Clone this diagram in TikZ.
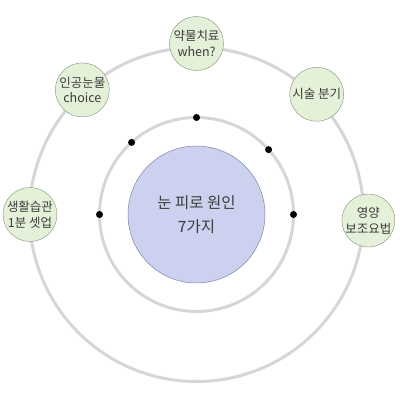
\documentclass[tikz,border=0pt]{standalone}
\usepackage{fontspec}
\setmainfont{Noto Sans CJK KR}
\usepackage{tikz}
\usetikzlibrary{positioning,calc}
\definecolor{ringgray}{RGB}{214, 214, 214}
\definecolor{satfill}{RGB}{228, 240, 216}
\definecolor{satdraw}{RGB}{130, 145, 120}
\definecolor{corefill}{RGB}{205, 209, 240}
\definecolor{coredraw}{RGB}{125, 132, 165}
\definecolor{textgray}{RGB}{60, 60, 60}

\begin{document}
\begin{tikzpicture}[
    x=1pt, y=1pt,
    ring/.style={draw=ringgray, line width=3pt},
    core/.style={circle, draw=coredraw, fill=corefill, line width=0.5pt, minimum size=137pt, inner sep=0pt, align=center, text=textgray, font=\fontsize{15.5}{24}\selectfont},
    sat/.style={circle, draw=satdraw, fill=satfill, line width=0.4pt, minimum size=54pt, inner sep=0pt, align=center, text=textgray, font=\fontsize{12.5}{15.5}\selectfont},
    dot/.style={circle, fill=black, minimum size=7pt, inner sep=0pt}
]
\useasboundingbox (0,0) rectangle (400,400);

% Centre of all rings
\coordinate (c) at (196.5,185.5);

% Rings
\draw[ring] (c) circle[radius=167];
\draw[ring] (c) circle[radius=97];

% Core
\node[core] (cause) at (c) {눈 피로 원인\\7가지};

% Dots on the inner ring
\node[dot] (dtop) at ([shift={(90:97)}]c) {};
\node[dot] (dleft) at ([shift={(180:97)}]c) {};
\node[dot] (dright) at ([shift={(0:97)}]c) {};
\node[dot] (dul) at ([shift={(132:97)}]c) {};
\node[dot] (dur) at ([shift={(42:97)}]c) {};

% Satellites on the outer ring
\node[sat] (drug) at ([shift={(90:171)}]c) {약물치료\\when?};
\node[sat] (tears) at ([shift={(132.5:169)}]c) {인공눈물\\choice};
\node[sat] (surgery) at ([shift={(45:170)}]c) {시술 분기};
\node[sat] (habit) at ([shift={(180:166.5)}]c) {생활습관\\1분 셋업};
\node[sat, minimum size=51pt] (diet) at ([shift={(-2:172)}]c) {영양\\보조요법};

\end{tikzpicture}
\end{document}
